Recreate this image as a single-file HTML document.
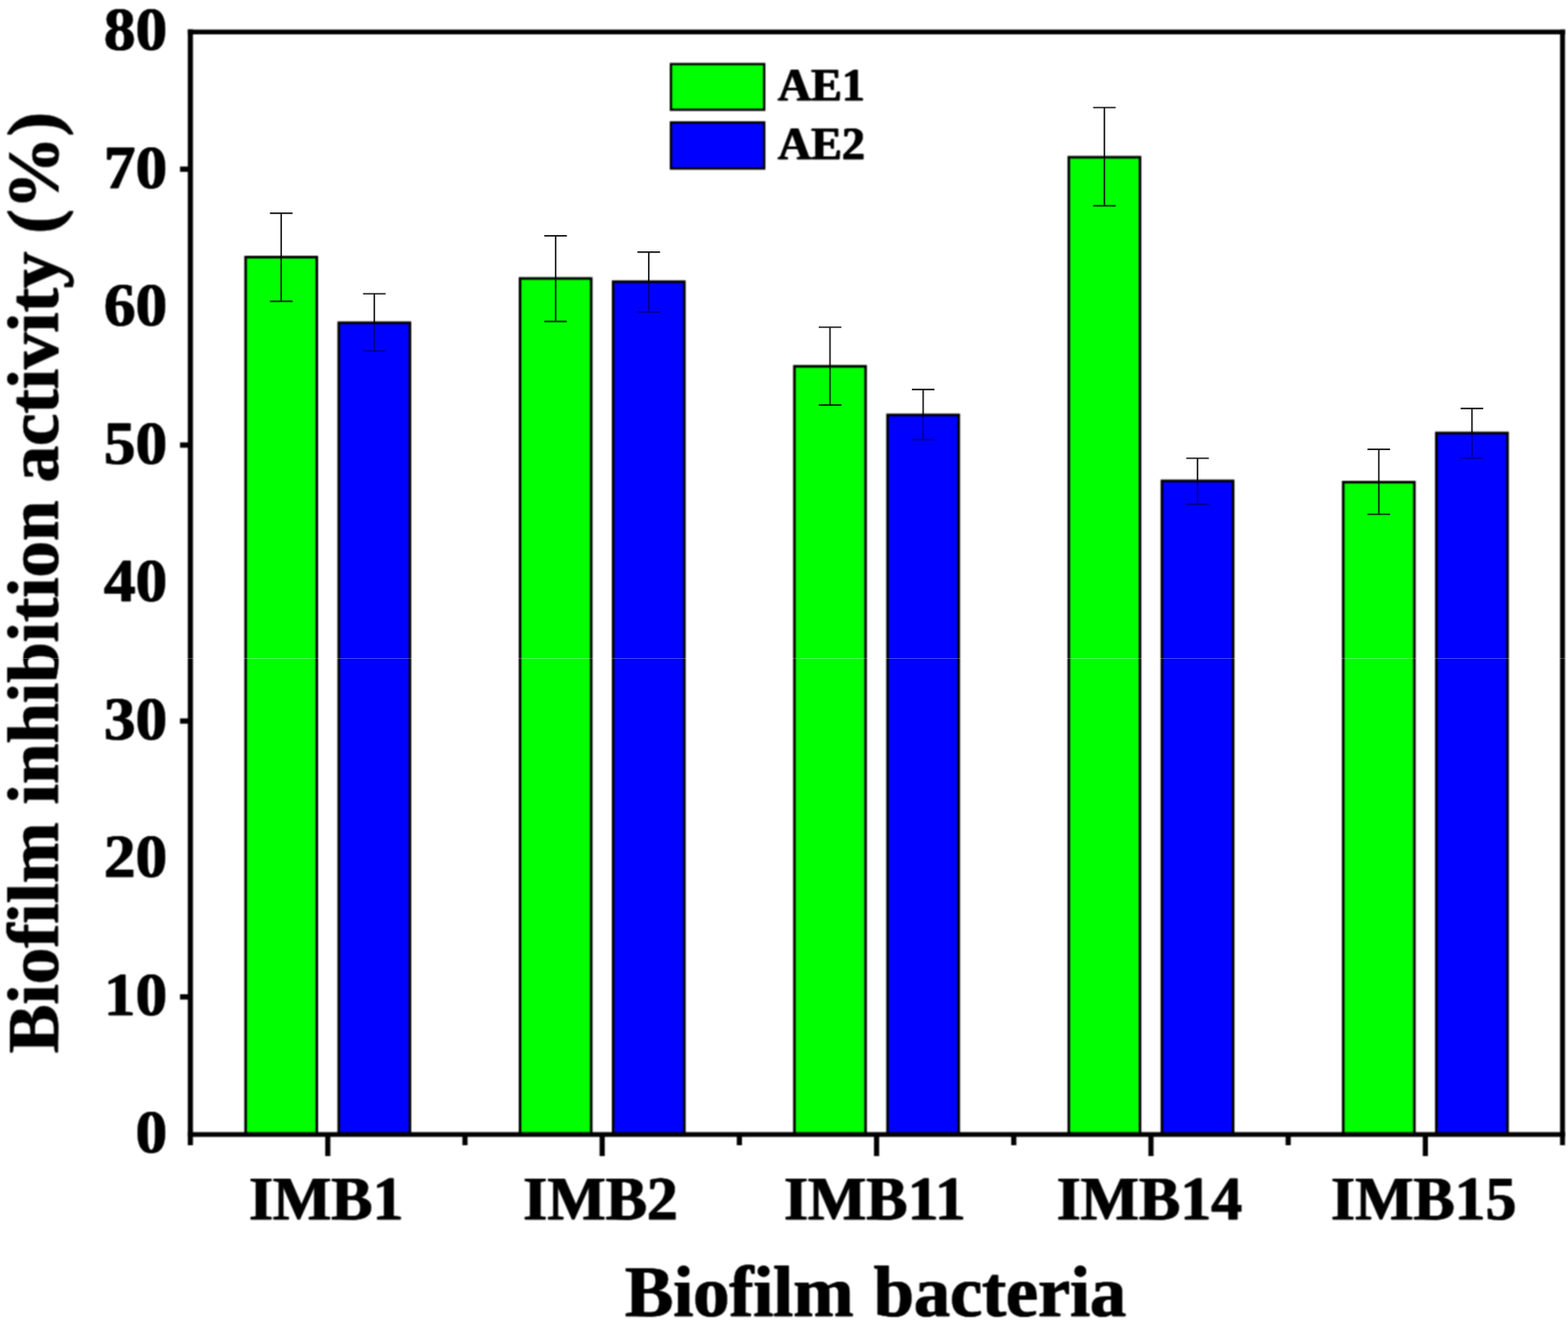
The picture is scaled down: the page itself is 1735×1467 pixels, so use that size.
<!DOCTYPE html>
<html lang="en"><head><meta charset="utf-8"><title>Biofilm inhibition activity</title>
<style>html,body{margin:0;padding:0;background:#fff;}body{width:1735px;height:1467px;overflow:hidden;}svg{display:block;}text{filter:url(#hb);font-family:"Liberation Serif","DejaVu Serif",serif;font-weight:bold;text-rendering:geometricPrecision;fill:#000;stroke:#000;stroke-width:0.4px;stroke-linejoin:round;}</style>
</head><body>
<svg width="1735" height="1467" viewBox="0 0 1735 1467">
<rect x="-20" y="-20" width="1775" height="1507" fill="#fff"/>
<defs><filter id="soft" filterUnits="userSpaceOnUse" x="0" y="0" width="1735" height="1467" color-interpolation-filters="sRGB"><feConvolveMatrix order="3" kernelMatrix="1 2 1 2 4 2 1 2 1" divisor="16" edgeMode="duplicate" preserveAlpha="true"/></filter><filter id="hb" x="-5%" y="-20%" width="110%" height="140%" color-interpolation-filters="sRGB"><feOffset in="SourceGraphic" dx="1" dy="0" result="a"/><feMerge><feMergeNode in="a"/><feMergeNode in="SourceGraphic"/></feMerge></filter></defs>
<g filter="url(#soft)">
<rect x="-20" y="-20" width="1775" height="1507" fill="#fff"/>
<g stroke="#000" stroke-width="2.90" stroke-linejoin="miter">
<rect x="271.80" y="284.45" width="78.75" height="970.65" fill="#00ff00"/>
<rect x="374.85" y="357.05" width="78.75" height="898.05" fill="#0000ff"/>
<rect x="575.42" y="308.05" width="78.75" height="947.05" fill="#00ff00"/>
<rect x="678.47" y="311.65" width="78.75" height="943.45" fill="#0000ff"/>
<rect x="879.04" y="405.25" width="78.75" height="849.85" fill="#00ff00"/>
<rect x="982.09" y="459.05" width="78.75" height="796.05" fill="#0000ff"/>
<rect x="1182.66" y="173.95" width="78.75" height="1081.15" fill="#00ff00"/>
<rect x="1285.71" y="532.05" width="78.75" height="723.05" fill="#0000ff"/>
<rect x="1486.28" y="533.45" width="78.75" height="721.65" fill="#00ff00"/>
<rect x="1589.33" y="479.05" width="78.75" height="776.05" fill="#0000ff"/>
</g>
<g stroke="#000" fill="none" stroke-width="5.70" stroke-linecap="butt">
<path stroke-width="5.3" d="M207.80 35.45H1731.85"/>
<path stroke-width="5.2" d="M207.80 1255.20H1731.85"/>
<path d="M210.65 32.45V1267.00"/>
<path stroke-width="5.4" d="M1728.95 32.80V1267.00"/>
<path stroke-width="5.9" d="M199.20 1102.90H210.65"/>
<path stroke-width="5.9" d="M199.20 797.70H210.65"/>
<path stroke-width="5.9" d="M199.20 492.40H210.65"/>
<path stroke-width="5.9" d="M199.20 187.20H210.65"/>
<path d="M362.70 1255.10V1279.00"/>
<path d="M514.51 1255.10V1267.00"/>
<path d="M666.32 1255.10V1279.00"/>
<path d="M818.13 1255.10V1267.00"/>
<path d="M969.94 1255.10V1279.00"/>
<path d="M1121.75 1255.10V1267.00"/>
<path d="M1273.56 1255.10V1279.00"/>
<path d="M1425.37 1255.10V1267.00"/>
<path d="M1577.18 1255.10V1279.00"/>
</g>
<g font-size="67.5" text-anchor="end">
<text transform="translate(184.4 1275.20) scale(1.035 1)">0</text>
<text transform="translate(184.4 1122.72) scale(1.035 1)">10</text>
<text transform="translate(184.4 970.25) scale(1.035 1)">20</text>
<text transform="translate(184.4 817.77) scale(1.035 1)">30</text>
<text transform="translate(184.4 665.30) scale(1.035 1)">40</text>
<text transform="translate(184.4 512.82) scale(1.035 1)">50</text>
<text transform="translate(184.4 360.35) scale(1.035 1)">60</text>
<text transform="translate(184.4 207.87) scale(1.035 1)">70</text>
<text transform="translate(184.4 55.40) scale(1.035 1)">80</text>
</g>
<g font-size="68.4" text-anchor="middle">
<text x="360.40" y="1349.1">IMB1</text>
<text x="664.02" y="1349.1">IMB2</text>
<text x="967.64" y="1349.1">IMB11</text>
<text x="1271.26" y="1349.1">IMB14</text>
<text x="1574.88" y="1349.1">IMB15</text>
</g>
<text x="968.3" y="1455.5" font-size="80.2" text-anchor="middle" word-spacing="2.6" letter-spacing="-0.17">Biofilm bacteria</text>
<text transform="translate(63.9 645.1) rotate(-90)" font-size="80.6" text-anchor="middle">Biofilm inhibition activity (%)</text>
<g stroke="#000" stroke-width="2.6">
<rect x="742.4" y="70.9" width="103.2" height="50.5" fill="#00ff00"/>
<rect x="742.4" y="135.5" width="103.2" height="50.9" fill="#0000ff"/>
</g>
<g font-size="51">
<text x="860.2" y="110.5">AE1</text>
<text x="860.2" y="176.2">AE2</text>
</g>
</g>
<g stroke="#000" stroke-width="1.7" fill="none">
<path stroke-opacity="0.9" d="M298.68 235.80H323.68M311.18 235.80V285.90"/>
<path stroke-opacity="0.85" d="M311.18 285.90V333.30M298.68 333.30H323.68"/>
<path stroke-opacity="0.9" d="M401.72 325.00H426.72M414.22 325.00V358.50"/>
<path stroke-opacity="0.45" d="M414.22 358.50V388.40M401.72 388.40H426.72"/>
<path stroke-opacity="0.9" d="M602.29 260.80H627.29M614.79 260.80V309.50"/>
<path stroke-opacity="0.85" d="M614.79 309.50V355.60M602.29 355.60H627.29"/>
<path stroke-opacity="0.9" d="M705.34 278.90H730.34M717.84 278.90V313.10"/>
<path stroke-opacity="0.45" d="M717.84 313.10V345.20M705.34 345.20H730.34"/>
<path stroke-opacity="0.9" d="M905.92 362.00H930.92M918.42 362.00V406.70"/>
<path stroke-opacity="0.85" d="M918.42 406.70V448.10M905.92 448.10H930.92"/>
<path stroke-opacity="0.9" d="M1008.97 430.80H1033.97M1021.47 430.80V460.50"/>
<path stroke-opacity="0.45" d="M1021.47 460.50V486.40M1008.97 486.40H1033.97"/>
<path stroke-opacity="0.9" d="M1209.53 119.00H1234.53M1222.03 119.00V175.40"/>
<path stroke-opacity="0.85" d="M1222.03 175.40V227.60M1209.53 227.60H1234.53"/>
<path stroke-opacity="0.9" d="M1312.59 507.00H1337.59M1325.09 507.00V533.50"/>
<path stroke-opacity="0.45" d="M1325.09 533.50V557.80M1312.59 557.80H1337.59"/>
<path stroke-opacity="0.9" d="M1513.15 497.20H1538.15M1525.65 497.20V534.90"/>
<path stroke-opacity="0.85" d="M1525.65 534.90V569.00M1513.15 569.00H1538.15"/>
<path stroke-opacity="0.9" d="M1616.21 451.80H1641.21M1628.71 451.80V480.50"/>
<path stroke-opacity="0.45" d="M1628.71 480.50V506.60M1616.21 506.60H1641.21"/>
</g>
<rect x="0" y="728" width="1735" height="1" fill="#fff" opacity="0.25"/>
</svg></body></html>
